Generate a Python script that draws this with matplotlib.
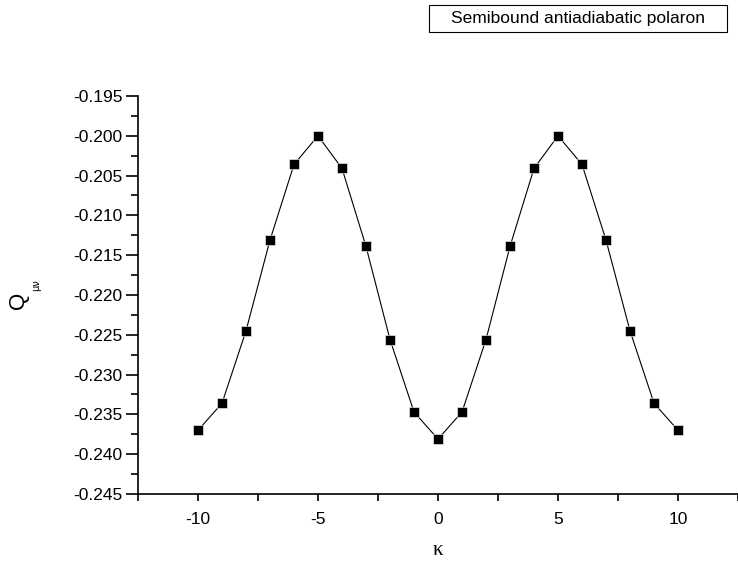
import matplotlib.pyplot as plt
from matplotlib.patches import Rectangle
from matplotlib.ticker import MultipleLocator

kappa = [-10, -9, -8, -7, -6, -5, -4, -3, -2, -1, 0, 1, 2, 3, 4, 5, 6, 7, 8, 9, 10]
q_munu = [-0.2370, -0.2336, -0.2245, -0.2131, -0.2036, -0.2000, -0.2041, -0.2139, -0.2256, -0.2347,
          -0.2381, -0.2347, -0.2256, -0.2139, -0.2041, -0.2000, -0.2036, -0.2131, -0.2245, -0.2336, -0.2370]
legend_label = 'Semibound antiadiabatic polaron'

plt.rcParams['font.family'] = ['Liberation Sans', 'DejaVu Sans']
plt.rcParams['axes.unicode_minus'] = False

fig = plt.figure(figsize=(7.38, 5.65), dpi=100)
ax = fig.add_axes([0.187, 0.1257, 0.813, 0.7044])

ax.plot(kappa, q_munu, color='black', lw=0.8, marker='s', ms=7.5,
        markerfacecolor='black', markeredgecolor='white', markeredgewidth=0.4)

ax.set_xlim(-12.5, 12.5)
ax.set_ylim(-0.245, -0.195)
ax.xaxis.set_major_locator(MultipleLocator(5))
ax.xaxis.set_minor_locator(MultipleLocator(2.5))
ax.yaxis.set_major_locator(MultipleLocator(0.005))
ax.yaxis.set_minor_locator(MultipleLocator(0.0025))
ax.yaxis.set_major_formatter(plt.FormatStrFormatter('%.3f'))

for s in ['top', 'right']:
    ax.spines[s].set_visible(False)
for s in ['left', 'bottom']:
    ax.spines[s].set_linewidth(1.2)

ax.tick_params(axis='y', which='major', direction='out', length=9, width=1.2, labelsize=12.5, pad=2)
ax.tick_params(axis='y', which='minor', direction='out', length=5, width=1.2)
ax.tick_params(axis='x', which='major', direction='out', length=5, width=1.2, labelsize=12.5, pad=8)
ax.tick_params(axis='x', which='minor', direction='out', length=5, width=1.2)

ax.set_xlabel('κ', family=['Liberation Serif', 'DejaVu Serif'], fontsize=15, labelpad=10)

# y label: Q with a tiny subscript
fig.text(19 / 738, 1 - 300 / 565, 'Q', fontsize=16, rotation=90, ha='center', va='center')
fig.text(36 / 738, 1 - 285 / 565, 'μν', fontsize=7, rotation=90, ha='center', va='center',
         family=['DejaVu Sans'])

# legend box
fig.patches.append(Rectangle((429 / 738, 1 - 32 / 565), 298 / 738, 27 / 565,
                             transform=fig.transFigure, facecolor='white',
                             edgecolor='black', lw=0.8))
fig.text(578 / 738, 1 - 18.5 / 565, legend_label, fontsize=12.5, ha='center', va='center')

fig.savefig('out.png', dpi=100)
